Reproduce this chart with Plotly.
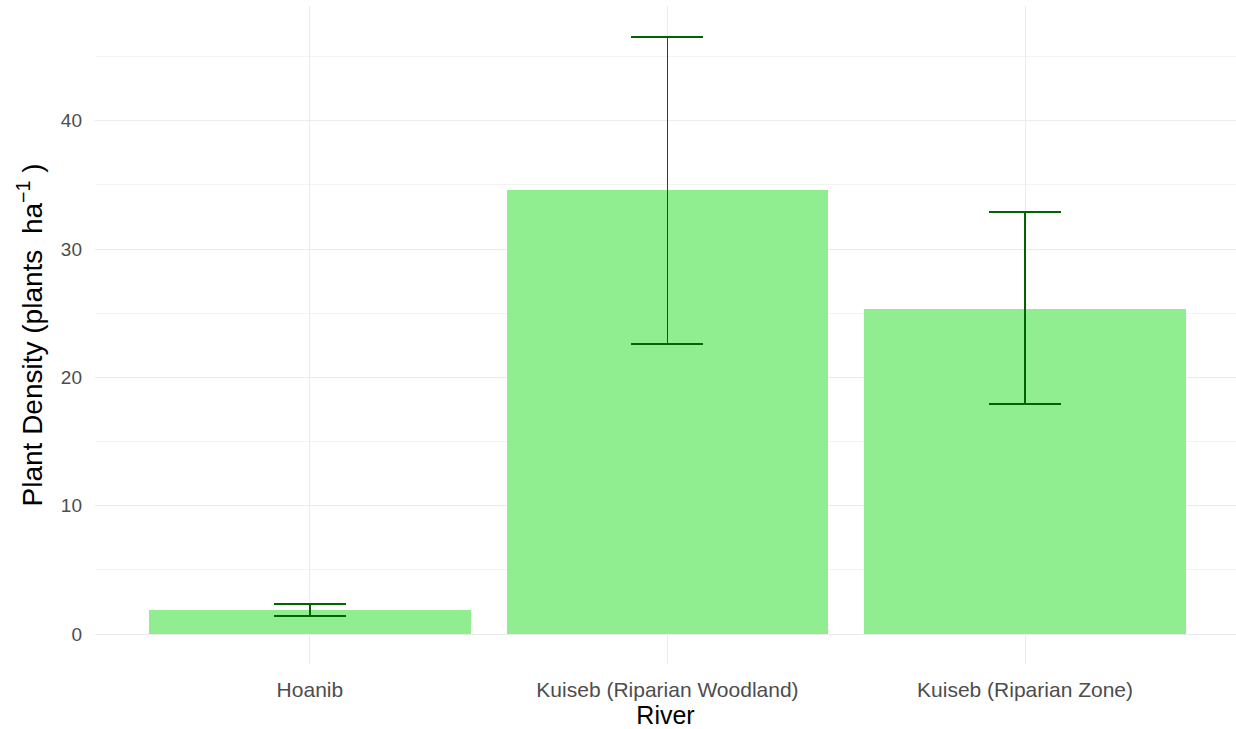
import plotly.graph_objects as go

rivers = ["Hoanib", "Kuiseb (Riparian Woodland)", "Kuiseb (Riparian Zone)"]
density = [1.87, 34.6, 25.3]
upper = [2.34, 46.5, 32.9]
lower = [1.40, 22.6, 17.9]

err_plus = [u - d for u, d in zip(upper, density)]
err_minus = [d - l for d, l in zip(density, lower)]

fig = go.Figure()
fig.add_trace(go.Bar(
    x=rivers, y=density, width=0.9,
    marker=dict(color="#90EE90", line=dict(width=0)),
    error_y=dict(type="data", symmetric=False, array=err_plus, arrayminus=err_minus,
                 color="#006400", thickness=1.8, width=36),
    showlegend=False,
))

fig.update_layout(
    width=1236, height=729,
    margin=dict(l=95, r=0, t=6, b=65),
    plot_bgcolor="white", paper_bgcolor="white",
    font=dict(family="Liberation Sans, Arial, sans-serif", color="#4D4D4D", size=19),
    bargap=0,
    xaxis=dict(
        range=[-0.601, 2.59], showgrid=True, gridcolor="#EBEBEB", gridwidth=1.2,
        showline=False, zeroline=False, ticks="", automargin=False,
        ticklabelstandoff=11,
        tickfont=dict(size=21, color="#4D4D4D"),
        title=dict(text="River", font=dict(size=25, color="black"), standoff=2),
    ),
    yaxis=dict(
        range=[-2.33, 48.93], tickvals=[0, 10, 20, 30, 40],
        showgrid=True, gridcolor="#EBEBEB", gridwidth=1.2,
        zeroline=False, showline=False, ticks="", automargin=False,
        ticklabelstandoff=12,
        minor=dict(tickvals=[5, 15, 25, 35, 45], showgrid=True, gridcolor="#F3F3F3", gridwidth=0.6),
        tickfont=dict(size=19, color="#4D4D4D"),
        title=dict(text="Plant Density (plants  ha<sup>\u22121</sup> )", font=dict(size=28, color="black"), standoff=10),
    ),
)

fig.write_html("out.html")
